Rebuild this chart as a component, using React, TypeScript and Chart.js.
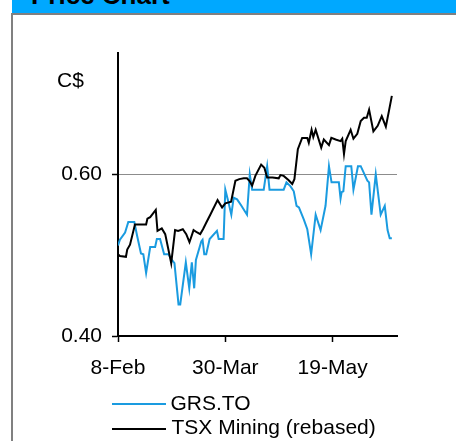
import React, { useEffect, useRef } from "react";
import { Chart, registerables } from "chart.js";

Chart.register(...registerables);

// x positions are calendar days after 8-Feb
const tickDays = [0, 50, 100];
const tickLabels = ["8-Feb", "30-Mar", "19-May"];
const yTicks = [0.4, 0.6];

const grsDays = [
  0, 0.9, 3.3, 4.8, 7.6, 8.9, 10.7, 11.8, 13.1, 15, 17.3, 18.1, 19.6, 21.5, 23.5,
  25.1, 26.3, 28.2, 29, 31.6, 33.2, 34.4, 35.5, 36.3, 38.8, 39.4, 40.2, 41.1, 42.7,
  46.1, 46.9, 49.2, 50, 51.5, 52.8, 53.9, 55.5, 57.5, 60.1, 61.4, 62.5, 67.9, 69.5,
  70.6, 77.2, 78.5, 80.4, 81.9, 83.2, 84.3, 86.6, 88.2, 90, 92.1, 94.4, 96.7, 98.3,
  99.5, 102.9, 103.7, 104.2, 105, 106.1, 108.7, 109.7, 111.8, 113.1, 116.2, 117,
  118.1, 120.1, 122.4, 124.3, 125.6, 126.6, 127.6,
];
const grsPrices = [
  0.512, 0.519, 0.528, 0.541, 0.541, 0.524, 0.502, 0.501, 0.478, 0.51, 0.51, 0.52,
  0.52, 0.501, 0.501, 0.494, 0.49, 0.439, 0.439, 0.491, 0.459, 0.491, 0.459, 0.494,
  0.517, 0.519, 0.501, 0.501, 0.52, 0.53, 0.52, 0.52, 0.581, 0.565, 0.55, 0.571,
  0.569, 0.561, 0.55, 0.6, 0.581, 0.581, 0.61, 0.581, 0.581, 0.59, 0.585, 0.579,
  0.561, 0.559, 0.544, 0.532, 0.501, 0.55, 0.531, 0.561, 0.61, 0.59, 0.59, 0.57,
  0.578, 0.579, 0.61, 0.61, 0.581, 0.61, 0.61, 0.592, 0.59, 0.55, 0.6, 0.55, 0.561,
  0.531, 0.521, 0.521,
];

const tsxDays = [
  0, 0.9, 3.7, 4.3, 5.6, 7.9, 13.1, 13.7, 15, 17.6, 18.4, 20.4, 22, 24.8, 26.6, 28,
  30.2, 31.8, 33.3, 35.2, 36.9, 38.3, 39.6, 41.1, 43, 46.4, 48.5, 50, 52.7, 54.7,
  56.5, 58.6, 60.1, 61.2, 62.5, 64, 66.7, 68.2, 69.5, 72, 74.9, 75.7, 77.2, 79.4,
  81.2, 82.2, 83.8, 85.8, 88.2, 88.9, 90.2, 91, 92.1, 94.7, 95.9, 98.3, 99.4, 101.4,
  103.7, 104.5, 105.3, 106.1, 108.4, 109.7, 111.5, 113.1, 114.6, 115.9, 117, 119,
  121, 122.9, 124.8, 126.3, 127.6,
];
const tsxValues = [
  0.501, 0.499, 0.498, 0.507, 0.513, 0.538, 0.538, 0.545, 0.547, 0.556, 0.53, 0.533,
  0.526, 0.49, 0.531, 0.53, 0.532, 0.526, 0.516, 0.531, 0.528, 0.526, 0.532, 0.54,
  0.55, 0.568, 0.559, 0.564, 0.566, 0.592, 0.594, 0.595, 0.595, 0.592, 0.586, 0.598,
  0.612, 0.608, 0.596, 0.596, 0.595, 0.599, 0.598, 0.593, 0.588, 0.594, 0.631,
  0.645, 0.645, 0.639, 0.655, 0.646, 0.655, 0.633, 0.643, 0.636, 0.645, 0.643,
  0.641, 0.644, 0.625, 0.641, 0.655, 0.644, 0.65, 0.666, 0.67, 0.67, 0.68, 0.653,
  0.66, 0.672, 0.659, 0.679, 0.697,
];

const BLUE = "#1a9be0";
const HEADER_BLUE = "#00a8ff";
const FONT = '"Liberation Sans", Arial, sans-serif';

export default function App() {
  const canvasRef = useRef<HTMLCanvasElement | null>(null);

  useEffect(() => {
    const canvas = canvasRef.current;
    if (!canvas) return;
    const chart = new Chart(canvas, {
      type: "line",
      data: {
        datasets: [
          {
            label: "GRS.TO",
            data: grsDays.map((d, i) => ({ x: d, y: grsPrices[i] })),
            borderColor: BLUE,
            backgroundColor: BLUE,
            borderWidth: 2,
            pointRadius: 0,
            tension: 0,
            order: 2,
          },
          {
            label: "TSX Mining (rebased)",
            data: tsxDays.map((d, i) => ({ x: d, y: tsxValues[i] })),
            borderColor: "#000",
            backgroundColor: "#000",
            borderWidth: 2,
            pointRadius: 0,
            tension: 0,
            order: 1,
          },
        ],
      },
      options: {
        responsive: false,
        animation: false,
        devicePixelRatio: 1,
        layout: { padding: { left: 0, top: 53, right: 59, bottom: 0 } },
        plugins: { legend: { display: false }, tooltip: { enabled: false } },
        scales: {
          x: {
            type: "linear",
            min: 0,
            max: 130,
            afterBuildTicks: (s: any) => {
              s.ticks = tickDays.map((v) => ({ value: v }));
            },
            afterFit: (s: any) => {
              s.height = 105;
            },
            grid: {
              drawOnChartArea: false,
              drawTicks: true,
              tickLength: 6,
              tickColor: "#000",
              tickWidth: 1.5,
            },
            border: { display: true, color: "#000", width: 2 },
            ticks: {
              autoSkip: false,
              maxRotation: 0,
              padding: 14,
              color: "#000",
              font: { family: FONT, size: 21 },
              callback: (v: any) => {
                const i = tickDays.indexOf(Number(v));
                return i >= 0 ? tickLabels[i] : "";
              },
            },
          },
          y: {
            type: "linear",
            min: 0.4,
            max: 0.75,
            afterBuildTicks: (s: any) => {
              s.ticks = yTicks.map((v) => ({ value: v }));
            },
            afterFit: (s: any) => {
              s.width = 118;
            },
            grid: {
              color: "#8c8c8c",
              lineWidth: 1,
              drawTicks: true,
              tickLength: 6,
              tickColor: "#000",
              tickWidth: 1.5,
            },
            border: { display: true, color: "#000", width: 2 },
            ticks: {
              padding: 10,
              color: "#000",
              font: { family: FONT, size: 21 },
              callback: (v: any) => Number(v).toFixed(2),
            },
          },
        },
      },
    });
    return () => chart.destroy();
  }, []);

  const abs = (o: React.CSSProperties): React.CSSProperties => ({ position: "absolute", ...o });
  const text: React.CSSProperties = {
    fontFamily: FONT,
    fontSize: 21,
    lineHeight: "21px",
    color: "#000",
    whiteSpace: "nowrap",
  };

  return (
    <div
      style={{
        position: "fixed",
        left: 0,
        top: 0,
        width: 456,
        height: 441,
        background: "#fff",
        overflow: "hidden",
      }}
    >
      <div style={abs({ left: 12, top: 0, width: 444, height: 13, background: HEADER_BLUE, overflow: "hidden" })}>
        <div
          style={abs({
            left: 19,
            top: -18.5,
            fontFamily: FONT,
            fontWeight: "bold",
            fontSize: 26,
            lineHeight: "26px",
            whiteSpace: "nowrap",
            color: "#000",
          })}
        >
          Price Chart
        </div>
      </div>
      <div style={abs({ left: 11, top: 13, width: 445, height: 2, background: "#808080" })} />
      <div style={abs({ left: 11, top: 13, width: 2, height: 428, background: "#808080" })} />
      <canvas ref={canvasRef} width={456} height={441} style={abs({ left: 0, top: 0, width: 456, height: 441 })} />
      <div style={abs({ ...text, left: 57, top: 69 })}>C$</div>
      <div style={abs({ left: 112, top: 402.5, width: 54, height: 2, background: BLUE })} />
      <div style={abs({ ...text, left: 170.5, top: 392 })}>GRS.TO</div>
      <div style={abs({ left: 112, top: 427.5, width: 54, height: 2, background: "#000" })} />
      <div style={abs({ ...text, left: 171.5, top: 415.5 })}>TSX Mining (rebased)</div>
    </div>
  );
}
